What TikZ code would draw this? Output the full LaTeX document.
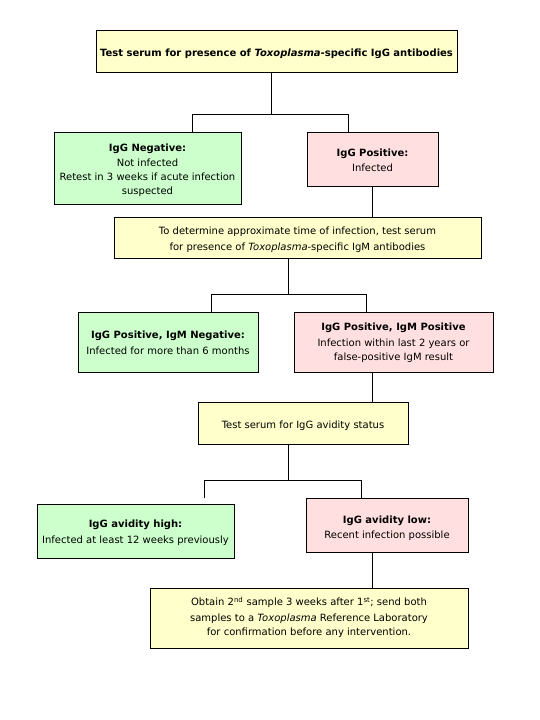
\documentclass[tikz,border=0pt]{standalone}
\usepackage{fontspec}
\setmainfont{DejaVu Sans}
\definecolor{ylw}{HTML}{FFFFCC}
\definecolor{grn}{HTML}{CCFFCC}
\definecolor{pnk}{HTML}{FFDFDF}
% #1: extra height (twice the downward shift of the text), #2: lines
\newcommand\boxtext[2]{\raisebox{0pt}[\dimexpr\height+#1\relax][\depth]{\begin{tabular}{@{}c@{}}#2\end{tabular}}}
\tikzset{
  box/.style={draw=black, line width=0.9pt, inner sep=0pt,
    font=\fontsize{10}{14}\selectfont},
  ybox/.style={box, fill=ylw},
  gbox/.style={box, fill=grn},
  pbox/.style={box, fill=pnk},
  conn/.style={draw=black, line width=0.9pt}
}
\begin{document}
\begin{tikzpicture}[x=1pt,y=-1pt]
\useasboundingbox[fill=white] (0,0) rectangle (540,720);
\node[ybox, minimum width=361, minimum height=42] (top) at (276.5,51)
  {\boxtext{5pt}{\textbf{Test serum for presence of \textit{Toxoplasma}-specific IgG antibodies}}};
\node[gbox, minimum width=187, minimum height=72] (neg) at (147.5,168)
  {\boxtext{4pt}{\textbf{IgG Negative:}\\[1pt]Not infected\\Retest in 3 weeks if acute infection\\suspected}};
\node[pbox, minimum width=131, minimum height=54] (pos) at (372.5,159)
  {\boxtext{3.8pt}{\textbf{IgG Positive:}\\[1.3pt]Infected}};
\node[ybox, minimum width=367, minimum height=41] (igm) at (297.5,237.5)
  {\boxtext{3.4pt}{To determine approximate time of infection, test serum\\[2pt]for presence of \textit{Toxoplasma}-specific IgM antibodies}};
\node[gbox, minimum width=180, minimum height=60] (mneg) at (168,342)
  {\boxtext{3.4pt}{\textbf{IgG Positive, IgM Negative:}\\[2pt]Infected for more than 6 months}};
\node[pbox, minimum width=199, minimum height=60] (mpos) at (393.5,342)
  {\boxtext{2pt}{\textbf{IgG Positive, IgM Positive}\\[1.3pt]Infection within last 2 years or\\[0.7pt]false-positive IgM result}};
\node[ybox, minimum width=210, minimum height=42] (avid) at (303,423)
  {\boxtext{4.4pt}{Test serum for IgG avidity status}};
\node[gbox, minimum width=197, minimum height=54] (high) at (135.5,531)
  {\boxtext{2.8pt}{\textbf{IgG avidity high:}\\[2.3pt]Infected at least 12 weeks previously}};
\node[pbox, minimum width=162, minimum height=54] (low) at (387,525)
  {\boxtext{6pt}{\textbf{IgG avidity low:}\\[1pt]Recent infection possible}};
\node[ybox, minimum width=318, minimum height=60] (fin) at (309,618)
  {\boxtext{0pt}{Obtain 2\textsuperscript{nd} sample 3 weeks after 1\textsuperscript{st}; send both\\[2pt]samples to a \textit{Toxoplasma} Reference Laboratory\\for confirmation before any intervention.}};
% level 1
\coordinate (j1) at (271,114);
\coordinate (j1l) at (192,114);
\coordinate (j1r) at (348,114);
\draw[conn] (top.south -| j1) -- (j1);
\draw[conn] (neg.north -| j1l) -- (j1l) -- (j1r) -- (pos.north -| j1r);
\draw[conn] (pos.south) -- (igm.north -| pos.south);
% level 2
\coordinate (j2) at (288,294);
\coordinate (j2l) at (211,294);
\coordinate (j2r) at (366,294);
\draw[conn] (igm.south -| j2) -- (j2);
\draw[conn] (mneg.north -| j2l) -- (j2l) -- (j2r) -- (mpos.north -| j2r);
\coordinate (c2) at (372,0);
\draw[conn] (mpos.south -| c2) -- (avid.north -| c2);
% level 3
\coordinate (j3) at (288,480);
\coordinate (j3l) at (204,480);
\coordinate (j3r) at (361,480);
\coordinate (e3l) at (204,498);
\draw[conn] (avid.south -| j3) -- (j3);
\draw[conn] (e3l) -- (j3l) -- (j3r) -- (low.north -| j3r);
\coordinate (c3) at (372,0);
\draw[conn] (low.south -| c3) -- (fin.north -| c3);
\end{tikzpicture}
\end{document}
